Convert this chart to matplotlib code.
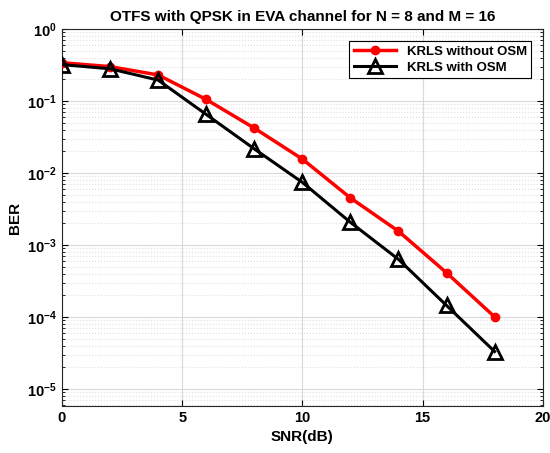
import matplotlib
matplotlib.use('Agg')
import matplotlib.pyplot as plt
from matplotlib.ticker import LogLocator, NullFormatter

# data
snr_db = [0, 2, 4, 6, 8, 10, 12, 14, 16, 18]
ber_without_osm = [0.34, 0.30, 0.23, 0.105, 0.042, 0.0156, 0.0045, 0.00155, 0.00041, 0.0001]
ber_with_osm = [0.32, 0.28, 0.195, 0.065, 0.0216, 0.0074, 0.00206, 0.00063, 0.000144, 0.000033]

plt.rcParams['font.family'] = ['Liberation Sans', 'DejaVu Sans']
plt.rcParams['font.weight'] = 'bold'

fig = plt.figure(figsize=(5.5, 4.53), dpi=100)
ax = fig.add_axes([0.1127, 0.104, 0.874, 0.832])

ax.semilogy(snr_db, ber_without_osm, color='red', linewidth=2.5, marker='o',
            markersize=6, markerfacecolor='red', markeredgecolor='red',
            label='KRLS without OSM', zorder=3)
ax.semilogy(snr_db, ber_with_osm, color='black', linewidth=2.2, marker='^',
            markersize=10, markerfacecolor='none', markeredgecolor='black',
            markeredgewidth=2, label='KRLS with OSM', zorder=4)

ax.set_xlim(0, 20)
ax.set_ylim(5.8e-6, 1)
ax.set_xticks([0, 5, 10, 15, 20])
ax.yaxis.set_major_locator(LogLocator(base=10, numticks=10))
ax.yaxis.set_minor_locator(LogLocator(base=10, subs=range(2, 10), numticks=20))
ax.yaxis.set_minor_formatter(NullFormatter())

ax.grid(True, which='major', color='#d9d9d9', linewidth=0.8)
ax.grid(True, which='minor', axis='y', color='#e0e0e0', linestyle=':', linewidth=0.8)
ax.set_axisbelow(True)

ax.tick_params(which='both', direction='in', top=True, right=True, labelsize=10.5)
ax.tick_params(which='minor', length=2.5)
ax.tick_params(which='major', length=4)
for lbl in ax.get_xticklabels() + ax.get_yticklabels():
    lbl.set_fontweight('bold')
for s in ax.spines.values():
    s.set_color('#262626')
    s.set_linewidth(0.8)

ax.set_xlabel('SNR(dB)', fontsize=11, fontweight='bold')
ax.set_ylabel('BER', fontsize=11, fontweight='bold')
ax.set_title('OTFS with QPSK in EVA channel for N = 8 and M = 16',
             fontsize=11, fontweight='bold', pad=6)

leg = ax.legend(loc='upper right', fontsize=9.5, fancybox=False, framealpha=1,
                edgecolor='black', borderpad=0.35, handlelength=3.2,
                labelspacing=0.25, bbox_to_anchor=(0.99, 0.985))
leg.get_frame().set_linewidth(0.8)
for t in leg.get_texts():
    t.set_fontweight('bold')

fig.savefig('out.png', dpi=100)
